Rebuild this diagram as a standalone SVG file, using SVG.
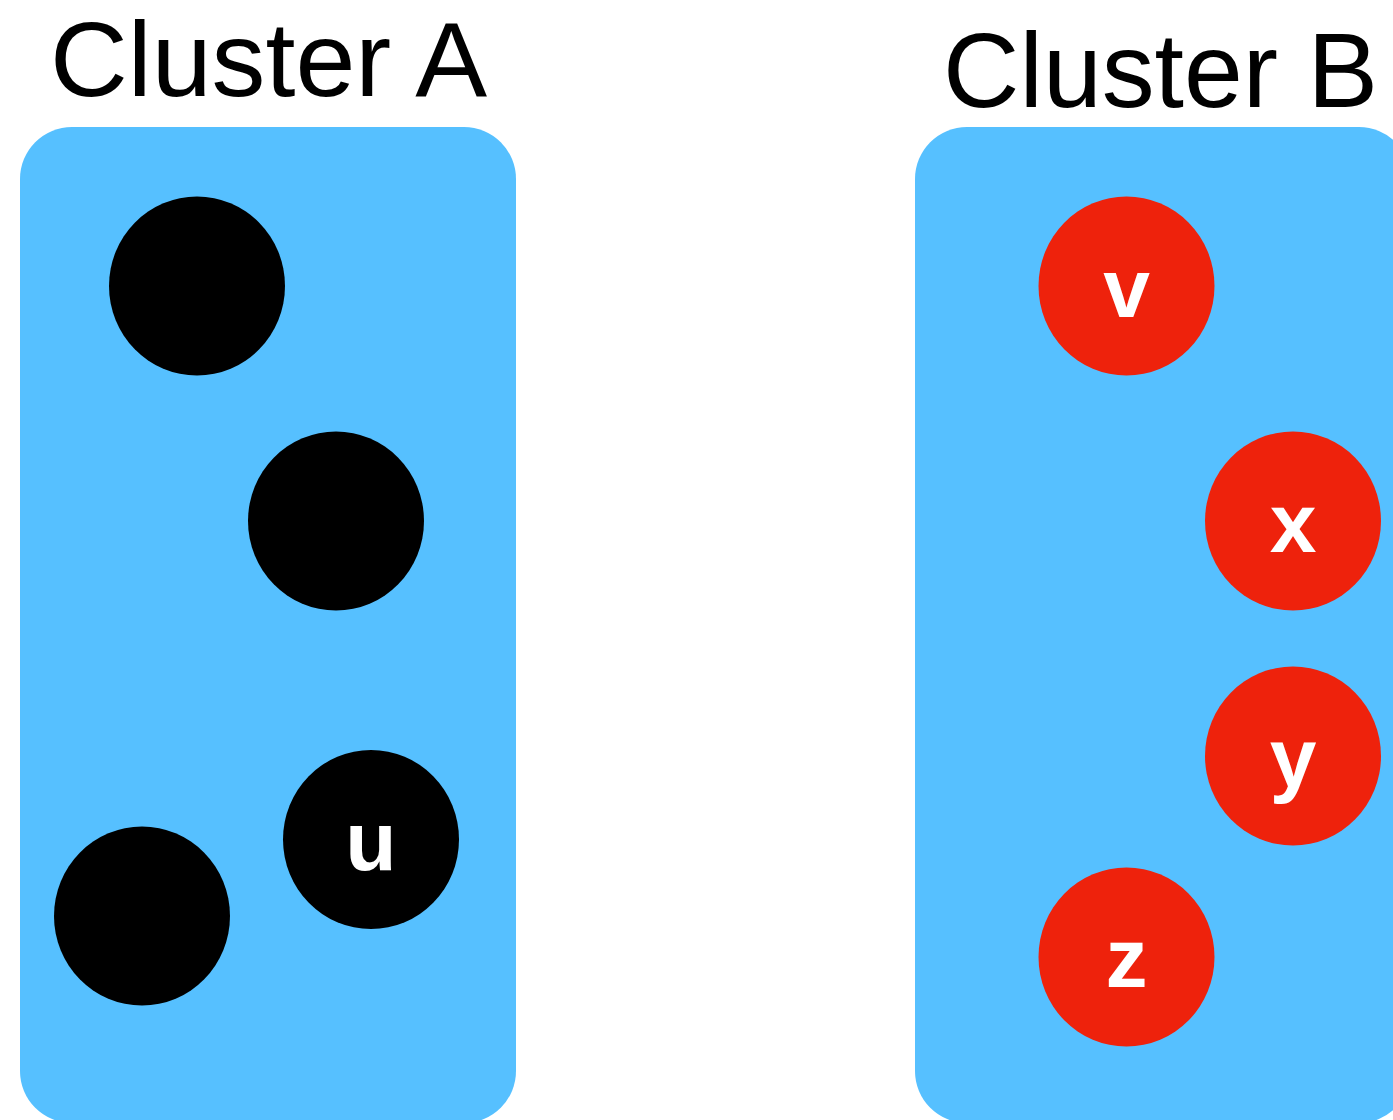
<svg xmlns="http://www.w3.org/2000/svg" width="1393" height="1120" viewBox="0 0 1393 1120">
  <style>
    .cluster { fill: #56C0FF; }
    .title { font-family: "Liberation Sans", Arial, sans-serif; font-size: 106px; fill: #000; }
    .dot-a { fill: #000; }
    .dot-b { fill: #EE220C; }
    .lbl { font-family: "Liberation Sans", Arial, sans-serif; font-size: 84px; font-weight: bold; fill: #fff; text-anchor: middle; }
  </style>
  <rect width="1393" height="1120" fill="#fff"/>

  <!-- cluster containers -->
  <g id="cluster-a">
    <rect class="cluster" x="20" y="127" width="496" height="996" rx="52" ry="52"/>
    <text class="title" x="50" y="96" textLength="437" lengthAdjust="spacingAndGlyphs">Cluster A</text>
  </g>
  <g id="cluster-b">
    <rect class="cluster" x="915" y="127" width="496" height="996" rx="52" ry="52"/>
    <text class="title" x="943" y="107" textLength="435" lengthAdjust="spacingAndGlyphs">Cluster B</text>
  </g>

  <!-- members of cluster A -->
  <g id="node-a1"><ellipse class="dot-a" cx="197" cy="286" rx="88" ry="89.5"/></g>
  <g id="node-a2"><ellipse class="dot-a" cx="336" cy="521" rx="88" ry="89.5"/></g>
  <g id="node-a3"><ellipse class="dot-a" cx="142" cy="916" rx="88" ry="89.5"/></g>
  <g id="node-u">
    <ellipse class="dot-a" cx="371" cy="839.5" rx="88" ry="89.5"/>
    <text class="lbl" x="371" y="870">u</text>
  </g>

  <!-- members of cluster B -->
  <g id="node-v">
    <ellipse class="dot-b" cx="1126.5" cy="286" rx="88" ry="89.5"/>
    <text class="lbl" x="1126.5" y="317">v</text>
  </g>
  <g id="node-x">
    <ellipse class="dot-b" cx="1293" cy="521" rx="88" ry="89.5"/>
    <text class="lbl" x="1293" y="552">x</text>
  </g>
  <g id="node-y">
    <ellipse class="dot-b" cx="1293" cy="756" rx="88" ry="89.5"/>
    <text class="lbl" x="1293" y="787">y</text>
  </g>
  <g id="node-z">
    <ellipse class="dot-b" cx="1126.5" cy="957" rx="88" ry="89.5"/>
    <text class="lbl" x="1126.5" y="987">z</text>
  </g>

  <!-- no edges in this view -->
  <g id="connectors"/>
</svg>
